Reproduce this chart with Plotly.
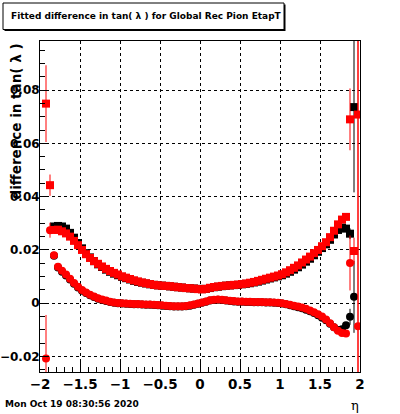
import plotly.graph_objects as go

# ---------------- data ----------------
eta = [-1.975, -1.925, -1.875, -1.825, -1.775, -1.725, -1.675, -1.625, -1.575, -1.525,
       -1.475, -1.425, -1.375, -1.325, -1.275, -1.225, -1.175, -1.125, -1.075, -1.025,
       -0.975, -0.925, -0.875, -0.825, -0.775, -0.725, -0.675, -0.625, -0.575, -0.525,
       -0.475, -0.425, -0.375, -0.325, -0.275, -0.225, -0.175, -0.125, -0.075, -0.025,
       0.025, 0.075, 0.125, 0.175, 0.225, 0.275, 0.325, 0.375, 0.425, 0.475,
       0.525, 0.575, 0.625, 0.675, 0.725, 0.775, 0.825, 0.875, 0.925, 0.975,
       1.025, 1.075, 1.125, 1.175, 1.225, 1.275, 1.325, 1.375, 1.425, 1.475,
       1.525, 1.575, 1.625, 1.675, 1.725, 1.775, 1.825, 1.875, 1.925, 1.975]

black_upper = [None, None, None, 0.0288, 0.0290, 0.0288, 0.0280, 0.0264, 0.0246, 0.0226,
               0.0206, 0.0188, 0.0172, 0.0158, 0.0146, 0.0136, 0.0126, 0.0118, 0.0111, 0.0105,
               0.0099, 0.0094, 0.0089, 0.0084, 0.0080, 0.0077, 0.0074, 0.0071, 0.0069, 0.0067,
               0.0066, 0.0065, 0.0063, 0.0062, 0.0060, 0.0059, 0.0057, 0.0056, 0.0055, 0.0054,
               0.0053, 0.0054, 0.0057, 0.0060, 0.0062, 0.0064, 0.0066, 0.0067, 0.0068, 0.0069,
               0.0071, 0.0073, 0.0075, 0.0078, 0.0081, 0.0085, 0.0089, 0.0093, 0.0097, 0.0101,
               0.0105, 0.0111, 0.0118, 0.0126, 0.0135, 0.0145, 0.0156, 0.0167, 0.0180, 0.0193,
               0.0207, 0.0221, 0.0238, 0.0258, 0.0275, 0.0284, 0.0280, 0.0261, 0.0736, None]
black_upper_err = [0, 0, 0, 0.0012, 0.0008, 0.0006, 0.0005, 0.0004, 0.0004, 0.0003,
                   0.0003, 0.0003, 0.0003, 0.0003, 0.0003, 0.0003, 0.0003, 0.0003, 0.0003, 0.0003,
                   0.0003, 0.0003, 0.0003, 0.0003, 0.0003, 0.0003, 0.0003, 0.0003, 0.0003, 0.0003,
                   0.0003, 0.0003, 0.0003, 0.0003, 0.0003, 0.0003, 0.0003, 0.0003, 0.0003, 0.0003,
                   0.0003, 0.0003, 0.0003, 0.0003, 0.0003, 0.0003, 0.0003, 0.0003, 0.0003, 0.0003,
                   0.0003, 0.0003, 0.0003, 0.0003, 0.0003, 0.0003, 0.0003, 0.0003, 0.0003, 0.0003,
                   0.0003, 0.0003, 0.0003, 0.0003, 0.0003, 0.0003, 0.0003, 0.0003, 0.0003, 0.0003,
                   0.0003, 0.0004, 0.0004, 0.0005, 0.0006, 0.0008, 0.0012, 0.0020, 0.0320, 0]

black_lower = [None, None, None, 0.0178, 0.0134, 0.0118, 0.0104, 0.0089, 0.0073, 0.0059,
               0.0047, 0.0038, 0.0030, 0.0023, 0.0017, 0.0012, 0.0008, 0.0005, 0.0002, 0.0000,
               -0.0001, -0.0002, -0.0003, -0.0004, -0.0004, -0.0005, -0.0006, -0.0006, -0.0007, -0.0008,
               -0.0009, -0.0010, -0.0011, -0.0012, -0.0012, -0.0012, -0.0011, -0.0009, -0.0006, -0.0002,
               0.0002, 0.0006, 0.0010, 0.0012, 0.0013, 0.0012, 0.0010, 0.0008, 0.0007, 0.0006,
               0.0006, 0.0005, 0.0005, 0.0004, 0.0004, 0.0004, 0.0003, 0.0003, 0.0002, 0.0001,
               -0.0001, -0.0004, -0.0008, -0.0011, -0.0015, -0.0019, -0.0024, -0.0030, -0.0037, -0.0045,
               -0.0054, -0.0064, -0.0077, -0.0090, -0.0100, -0.0098, -0.0083, -0.0051, 0.0024, None]
black_lower_err = [0, 0, 0, 0.0012, 0.0008, 0.0006, 0.0005, 0.0004, 0.0004, 0.0003,
                   0.0003, 0.0003, 0.0003, 0.0003, 0.0003, 0.0003, 0.0003, 0.0003, 0.0003, 0.0003,
                   0.0003, 0.0003, 0.0003, 0.0003, 0.0003, 0.0003, 0.0003, 0.0003, 0.0003, 0.0003,
                   0.0003, 0.0003, 0.0003, 0.0003, 0.0003, 0.0003, 0.0003, 0.0003, 0.0003, 0.0003,
                   0.0003, 0.0003, 0.0003, 0.0003, 0.0003, 0.0003, 0.0003, 0.0003, 0.0003, 0.0003,
                   0.0003, 0.0003, 0.0003, 0.0003, 0.0003, 0.0003, 0.0003, 0.0003, 0.0003, 0.0003,
                   0.0003, 0.0003, 0.0003, 0.0003, 0.0003, 0.0003, 0.0003, 0.0003, 0.0003, 0.0003,
                   0.0003, 0.0004, 0.0004, 0.0005, 0.0006, 0.0008, 0.0012, 0.0030, 0.0135, 0]

red_upper = [None, 0.0749, 0.0443, 0.0275, 0.0276, 0.0270, 0.0262, 0.0250, 0.0234, 0.0218,
             0.0200, 0.0184, 0.0170, 0.0158, 0.0148, 0.0138, 0.0129, 0.0121, 0.0114, 0.0108,
             0.0101, 0.0096, 0.0091, 0.0086, 0.0082, 0.0078, 0.0075, 0.0072, 0.0069, 0.0067,
             0.0066, 0.0065, 0.0064, 0.0062, 0.0060, 0.0059, 0.0057, 0.0056, 0.0055, 0.0053,
             0.0052, 0.0054, 0.0058, 0.0061, 0.0063, 0.0065, 0.0066, 0.0067, 0.0069, 0.0070,
             0.0072, 0.0074, 0.0077, 0.0080, 0.0084, 0.0088, 0.0092, 0.0096, 0.0100, 0.0104,
             0.0109, 0.0116, 0.0124, 0.0133, 0.0142, 0.0153, 0.0164, 0.0175, 0.0188, 0.0200,
             0.0214, 0.0229, 0.0248, 0.0272, 0.0296, 0.0314, 0.0324, 0.0690, 0.0196, 0.0708]
red_upper_err = [0, 0.0144, 0.0040, 0.0012, 0.0008, 0.0006, 0.0005, 0.0004, 0.0004, 0.0003,
                 0.0003, 0.0003, 0.0003, 0.0003, 0.0003, 0.0003, 0.0003, 0.0003, 0.0003, 0.0003,
                 0.0003, 0.0003, 0.0003, 0.0003, 0.0003, 0.0003, 0.0003, 0.0003, 0.0003, 0.0003,
                 0.0003, 0.0003, 0.0003, 0.0003, 0.0003, 0.0003, 0.0003, 0.0003, 0.0003, 0.0003,
                 0.0003, 0.0003, 0.0003, 0.0003, 0.0003, 0.0003, 0.0003, 0.0003, 0.0003, 0.0003,
                 0.0003, 0.0003, 0.0003, 0.0003, 0.0003, 0.0003, 0.0003, 0.0003, 0.0003, 0.0003,
                 0.0003, 0.0003, 0.0003, 0.0003, 0.0003, 0.0003, 0.0003, 0.0003, 0.0003, 0.0003,
                 0.0003, 0.0004, 0.0004, 0.0005, 0.0006, 0.0008, 0.0012, 0.0116, 0.0050, 0.2000]

red_lower = [None, -0.0207, 0.0274, 0.0180, 0.0137, 0.0122, 0.0108, 0.0092, 0.0076, 0.0062,
             0.0050, 0.0040, 0.0032, 0.0025, 0.0019, 0.0014, 0.0010, 0.0006, 0.0003, 0.0001,
             0.0000, -0.0001, -0.0002, -0.0003, -0.0003, -0.0004, -0.0005, -0.0005, -0.0006, -0.0007,
             -0.0008, -0.0009, -0.0010, -0.0011, -0.0011, -0.0011, -0.0010, -0.0008, -0.0005, -0.0001,
             0.0003, 0.0007, 0.0011, 0.0013, 0.0014, 0.0013, 0.0011, 0.0009, 0.0008, 0.0007,
             0.0007, 0.0006, 0.0006, 0.0005, 0.0005, 0.0005, 0.0004, 0.0004, 0.0003, 0.0002,
             0.0000, -0.0003, -0.0006, -0.0009, -0.0012, -0.0016, -0.0021, -0.0027, -0.0034, -0.0041,
             -0.0050, -0.0061, -0.0075, -0.0090, -0.0103, -0.0112, -0.0114, 0.0151, None, -0.0086]
red_lower_err = [0, 0.0163, 0.0028, 0.0012, 0.0008, 0.0006, 0.0005, 0.0004, 0.0004, 0.0003,
                 0.0003, 0.0003, 0.0003, 0.0003, 0.0003, 0.0003, 0.0003, 0.0003, 0.0003, 0.0003,
                 0.0003, 0.0003, 0.0003, 0.0003, 0.0003, 0.0003, 0.0003, 0.0003, 0.0003, 0.0003,
                 0.0003, 0.0003, 0.0003, 0.0003, 0.0003, 0.0003, 0.0003, 0.0003, 0.0003, 0.0003,
                 0.0003, 0.0003, 0.0003, 0.0003, 0.0003, 0.0003, 0.0003, 0.0003, 0.0003, 0.0003,
                 0.0003, 0.0003, 0.0003, 0.0003, 0.0003, 0.0003, 0.0003, 0.0003, 0.0003, 0.0003,
                 0.0003, 0.0003, 0.0003, 0.0003, 0.0003, 0.0003, 0.0003, 0.0003, 0.0003, 0.0003,
                 0.0003, 0.0004, 0.0004, 0.0005, 0.0006, 0.0008, 0.0012, 0.0103, 0, 0.2000]

x_tickvals = [-2, -1.5, -1, -0.5, 0, 0.5, 1, 1.5, 2]
x_ticktext = ["\u22122", "\u22121.5", "\u22121", "\u22120.5", "0", "0.5", "1", "1.5", "2"]
y_tickvals = [-0.02, 0, 0.02, 0.04, 0.06, 0.08]
y_ticktext = ["\u22120.02", "0", "0.02", "0.04", "0.06", "0.08"]

title_text = "Fitted difference in tan( \u03bb ) for Global Rec Pion EtapT"
ytitle_text = "difference in tan( \u03bb )"
xtitle_text = "\u03b7"
date_text = "Mon Oct 19 08:30:56 2020"

# ---------------- layout geometry (pixels) ----------------
W, H = 400, 414
L, R, T, B = 40, 360, 41, 372


def px(x):
    return (x - L) / (R - L)


def py(y):
    return (B - y) / (B - T)


fig = go.Figure()


def add_series(y, err, color, symbol):
    fig.add_trace(go.Scatter(
        x=eta, y=y, mode="markers",
        marker=dict(symbol=symbol, size=8, color=color, line=dict(width=0)),
        error_y=dict(type="data", array=err, color=color, thickness=1, width=0, visible=True),
        showlegend=False, cliponaxis=True,
    ))


add_series(black_upper, black_upper_err, "black", "square")
add_series(black_lower, black_lower_err, "black", "circle")
add_series(red_upper, red_upper_err, "red", "square")
add_series(red_lower, red_lower_err, "red", "circle")

bold = dict(family="DejaVu Sans", size=13.5, color="black", weight="bold")
bold_y = dict(family="DejaVu Sans", size=12, color="black", weight="bold")

fig.update_layout(
    template="none",
    width=W, height=H,
    margin=dict(l=L, r=W - R, t=T, b=H - B, pad=0, autoexpand=False),
    paper_bgcolor="white", plot_bgcolor="white",
    xaxis=dict(
        range=[-2, 2], tickvals=x_tickvals, ticktext=x_ticktext, automargin=False,
        showline=True, linecolor="black", linewidth=1, mirror=True,
        ticks="inside", ticklen=10, tickcolor="black", tickwidth=1,
        showgrid=True, gridcolor="black", griddash="dot", gridwidth=1,
        zeroline=False, tickfont=bold,
        minor=dict(ticks="inside", ticklen=5, dtick=0.1, tick0=0, tickcolor="black", showgrid=False),
    ),
    yaxis=dict(
        range=[-0.0258, 0.0984], tickvals=y_tickvals, ticktext=y_ticktext, automargin=False,
        showline=True, linecolor="black", linewidth=1, mirror=True,
        ticks="inside", ticklen=9, tickcolor="black", tickwidth=1,
        showgrid=True, gridcolor="black", griddash="dot", gridwidth=1,
        zeroline=False, tickfont=bold_y, ticklabelstandoff=-3,
        minor=dict(ticks="inside", ticklen=5, dtick=0.005, tick0=0, tickcolor="black", showgrid=False),
    ),
)

# title box with shadow
fig.add_shape(type="rect", xref="paper", yref="paper",
              x0=px(4.5), x1=px(285.5), y0=py(31), y1=py(4.5),
              fillcolor="black", line=dict(width=0), layer="above")
fig.add_shape(type="rect", xref="paper", yref="paper",
              x0=px(3), x1=px(284), y0=py(29.5), y1=py(3),
              fillcolor="white", line=dict(color="black", width=1), layer="above")

fig.add_annotation(text=title_text, xref="paper", yref="paper",
                   x=px(9), y=py(16.5), xanchor="left", yanchor="middle", showarrow=False,
                   font=dict(family="DejaVu Sans", size=9, color="black", weight="bold"))

fig.add_annotation(text=ytitle_text, xref="paper", yref="paper", textangle=-90,
                   x=px(15.5), y=py(42), xanchor="center", yanchor="top", showarrow=False,
                   font=bold)

fig.add_annotation(text=xtitle_text, xref="paper", yref="paper",
                   x=px(355), y=py(405), xanchor="center", yanchor="middle", showarrow=False,
                   font=dict(family="DejaVu Serif", size=13, color="black"))

fig.add_annotation(text=date_text, xref="paper", yref="paper",
                   x=px(3), y=py(404.5), xanchor="left", yanchor="middle", showarrow=False,
                   font=dict(family="DejaVu Sans", size=9, color="black", weight="bold"))

fig.write_html("out.html", config={"displayModeBar": False},
               post_script="document.body.style.margin='0';document.body.style.padding='0';")
